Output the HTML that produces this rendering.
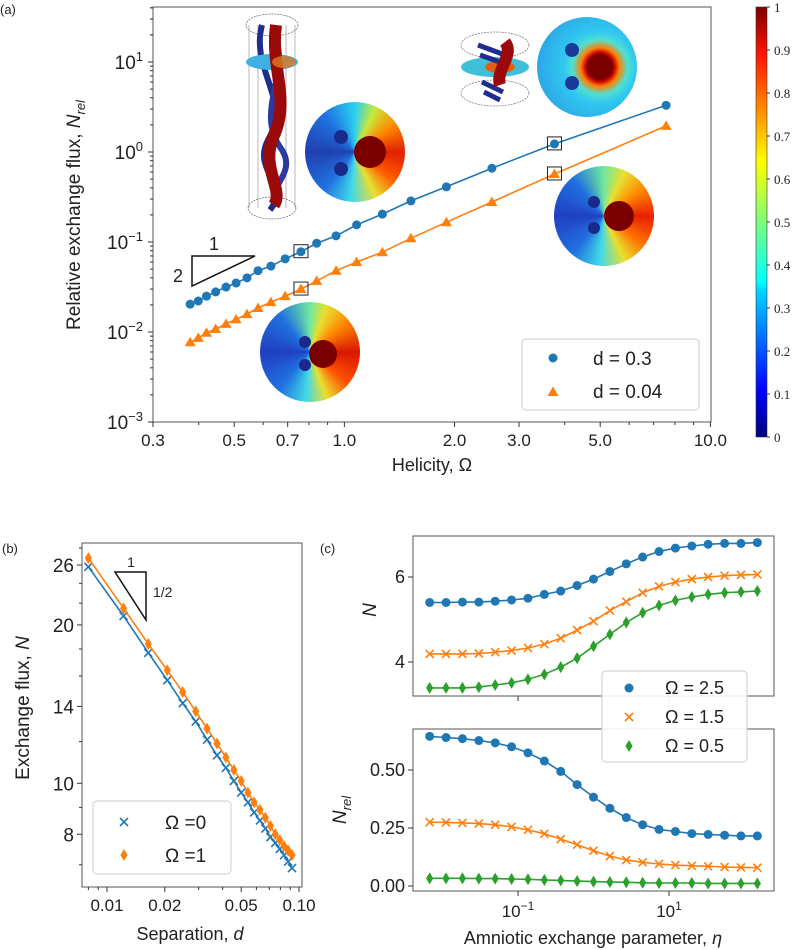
<!DOCTYPE html>
<html><head><meta charset="utf-8">
<style>
body{margin:0;background:#fff;}
#wrap{position:relative;width:796px;height:950px;overflow:hidden;font-family:"Liberation Sans","DejaVu Sans",sans-serif;}
svg{position:absolute;left:0;top:0;}
.disc{position:absolute;border-radius:50%;}
.dot{position:absolute;border-radius:50%;}
</style></head>
<body>
<div id="wrap">
<svg id="s" width="796" height="950" viewBox="0 0 796 950">
<defs>
<linearGradient id="cbar" x1="0" y1="1" x2="0" y2="0">
<stop offset="0" stop-color="#00007f"/><stop offset="0.11" stop-color="#0000ff"/><stop offset="0.125" stop-color="#0010ff"/>
<stop offset="0.34" stop-color="#00d4ff"/><stop offset="0.36" stop-color="#0ff"/><stop offset="0.5" stop-color="#7dff7a"/>
<stop offset="0.64" stop-color="#ff0"/><stop offset="0.89" stop-color="#ff1400"/><stop offset="1" stop-color="#7f0000"/>
</linearGradient>
</defs>
</svg>
<div class="disc" style="left:305px;top:102px;width:100px;height:100px;background:conic-gradient(from 0deg,#2bd0f0 0deg,#c8e83a 25deg,#ff8a00 55deg,#e02000 90deg,#ff5a00 125deg,#e8e030 155deg,#40d8e8 185deg,#2070e0 220deg,#2040b0 270deg,#2070e0 320deg,#2bd0f0 360deg);"></div>
<div class="dot" style="left:354px;top:136px;width:32px;height:32px;background:#7a0000;"></div>
<div class="dot" style="left:334px;top:130px;width:14px;height:14px;background:#1a2a8a;"></div>
<div class="dot" style="left:334px;top:162px;width:14px;height:14px;background:#1a2a8a;"></div>

<div class="disc" style="left:537px;top:17px;width:100px;height:100px;background:radial-gradient(circle at 63% 50%,#7a0000 0 15%,#d41000 19%,#ff8000 24%,#50e0d0 34%,#30c8f0 45%,#2a90e0 100%);"></div>
<div class="dot" style="left:565px;top:43px;width:14px;height:14px;background:#1a3a9a;"></div>
<div class="dot" style="left:565px;top:76px;width:14px;height:14px;background:#1a3a9a;"></div>

<div class="disc" style="left:554px;top:166px;width:100px;height:100px;background:conic-gradient(from 0deg,#70e8a0 0deg,#e8e030 25deg,#ff8a00 55deg,#e82000 90deg,#ff7000 125deg,#e8e030 155deg,#40d8e8 185deg,#2070e0 220deg,#2040c0 270deg,#2070e0 320deg,#70e8a0 360deg);"></div>
<div class="dot" style="left:604px;top:201px;width:30px;height:30px;background:#7a0000;"></div>
<div class="dot" style="left:588px;top:196px;width:12px;height:12px;background:#1a2a8a;"></div>
<div class="dot" style="left:588px;top:222px;width:12px;height:12px;background:#1a2a8a;"></div>

<div class="disc" style="left:260px;top:302px;width:100px;height:100px;background:conic-gradient(from 0deg,#70e8a0 0deg,#e8e030 20deg,#ff8a00 50deg,#d81800 90deg,#ff5000 130deg,#e8e030 160deg,#40d8e8 185deg,#2070e0 220deg,#2040c0 270deg,#2070e0 320deg,#70e8a0 360deg);"></div>
<div class="dot" style="left:309px;top:340px;width:28px;height:28px;background:#7a0000;"></div>
<div class="dot" style="left:299px;top:336px;width:12px;height:12px;background:#1a2a8a;"></div>
<div class="dot" style="left:299px;top:359px;width:12px;height:12px;background:#1a2a8a;"></div>
<svg id="over" width="796" height="950" viewBox="0 0 796 950"></svg>
</div>
<script>
// ---------- data ----------
const omegaA = [0.379,0.399,0.42,0.445,0.475,0.506,0.542,0.581,0.63,0.689,0.761,0.84,0.949,1.08,1.27,1.52,1.9,2.53,3.75,7.57];
const nrelD03 = [0.0204,0.0221,0.025,0.0279,0.0316,0.035,0.040,0.048,0.054,0.065,0.078,0.097,0.117,0.155,0.204,0.286,0.41,0.66,1.23,3.3];
const nrelD004 = [0.0077,0.0086,0.0098,0.0108,0.0123,0.0138,0.0158,0.0185,0.0215,0.025,0.030,0.037,0.048,0.060,0.077,0.11,0.166,0.278,0.57,1.95];
const aYTicks = [-3,-2,-1,0,1];
const aXTicks = [0.3,0.5,0.7,1.0,2.0,3.0,5.0,10.0];
const aXTickLabels = ["0.3","0.5","0.7","1.0","2.0","3.0","5.0","10.0"];
const cbarTicks = ["0","0.1","0.2","0.3","0.4","0.5","0.6","0.7","0.8","0.9","1"];

const sepD = [0.008,0.0122,0.0164,0.0206,0.0248,0.029,0.0332,0.0374,0.0416,0.0458,0.05,0.0542,0.0584,0.0626,0.0668,0.071,0.0752,0.0794,0.0836,0.0878,0.092];
const nOmega0 = [25.8,20.8,17.7,15.7,14.2,13.1,12.1,11.3,10.7,10.1,9.6,9.2,8.8,8.5,8.2,7.9,7.7,7.5,7.3,7.1,6.9];
const nOmega1 = [26.8,21.5,18.4,16.4,14.9,13.7,12.7,11.9,11.2,10.6,10.1,9.6,9.2,8.9,8.6,8.3,8.0,7.8,7.6,7.45,7.3];
const bYTicks = [26,20,14,10,8];
const bXTicks = [0.01,0.02,0.05,0.10];
const bXTickLabels = ["0.01","0.02","0.05","0.10"];

const eta = [0.00676,0.01114,0.01837,0.0303,0.0499,0.0822,0.1355,0.2234,0.368,0.607,1,1.648,2.716,4.477,7.38,12.16,20.04,33.0,54.5,89.7,147.9];
const nO25 = [5.40,5.40,5.41,5.41,5.43,5.46,5.50,5.59,5.67,5.80,5.95,6.13,6.31,6.47,6.60,6.68,6.73,6.77,6.79,6.79,6.81];
const nO15 = [4.19,4.19,4.19,4.20,4.23,4.27,4.33,4.42,4.56,4.75,4.96,5.21,5.42,5.63,5.78,5.88,5.95,6.00,6.03,6.05,6.06];
const nO05 = [3.39,3.39,3.39,3.41,3.46,3.51,3.59,3.71,3.88,4.09,4.37,4.65,4.93,5.16,5.33,5.45,5.53,5.59,5.63,5.65,5.67];
const rO25 = [0.645,0.640,0.635,0.627,0.617,0.600,0.574,0.539,0.494,0.437,0.383,0.335,0.295,0.264,0.244,0.235,0.226,0.222,0.219,0.216,0.216];
const rO15 = [0.275,0.274,0.272,0.269,0.264,0.255,0.242,0.225,0.202,0.178,0.152,0.129,0.112,0.102,0.095,0.090,0.087,0.085,0.082,0.080,0.079];
const rO05 = [0.033,0.033,0.033,0.032,0.032,0.030,0.029,0.026,0.024,0.021,0.019,0.017,0.016,0.014,0.013,0.013,0.013,0.011,0.011,0.011,0.011];
const cTopTicks = [4,6];
const cBotTicks = [0,0.25,0.5];
const cBotTickLabels = ["0.00","0.25","0.50"];
const cXTicks = [-1,1];

const BLUE="#1f77b4", ORANGE="#ff7f0e", GREEN="#2ca02c";
const NS="http://www.w3.org/2000/svg";
const S=document.getElementById('s');
const O=document.getElementById('over');
function mk(parent,tag,attrs,text){const e=document.createElementNS(NS,tag);for(const k in attrs)e.setAttribute(k,attrs[k]);if(text!==undefined)e.textContent=text;parent.appendChild(e);return e;}
const L10=Math.log10;

// ---------- axis functions ----------
const ax=v=>153+366*(L10(v)-L10(0.3));
const ay=v=>152-90*L10(v);
const bx=v=>107+192*(L10(v)+2);
const by=v=>565-526*(L10(v)-L10(26));
const cx=v=>518+75.5*(L10(v)+1);
function cyTop(v){return 577+(6-v)*42.5;}
function cyBot(v){return 886-v*232;}

function frame(p,x0,y0,x1,y1,name){
  const r=mk(p,'rect',{x:x0,y:y0,width:x1-x0,height:y1-y0,fill:'none',stroke:'#555','stroke-width':1});
  
  
}
function marker(p,type,x,y,color,name){
  let e;
  if(type==='o'){e=mk(p,'circle',{cx:x,cy:y,r:4.5,fill:color});}
  else if(type==='^'){e=mk(p,'path',{d:`M${x},${y-5.5}L${x+5.5},${y+4}L${x-5.5},${y+4}Z`,fill:color});}
  else if(type==='x'){e=mk(p,'path',{d:`M${x-4},${y-4}L${x+4},${y+4}M${x-4},${y+4}L${x+4},${y-4}`,stroke:color,'stroke-width':1.6,fill:'none'});}
  else {e=mk(p,'path',{d:`M${x},${y-6}L${x+3.6},${y}L${x},${y+6}L${x-3.6},${y}Z`,fill:color});}
  
  
  return e;
}
function series(p,xs,ys,fx,fy,color,type,name){
  const pts=xs.map((v,i)=>fx(v).toFixed(1)+','+fy(ys[i]).toFixed(1)).join(' ');
  const l=mk(p,'polyline',{points:pts,fill:'none',stroke:color,'stroke-width':1.6});
  
  
  xs.forEach((v,i)=>marker(p,type,fx(v),fy(ys[i]),color,name+'-point'));
}
function txt(p,x,y,s,size,anchor,name,extra){
  const t=mk(p,'text',Object.assign({x:x,y:y,'font-size':size,'text-anchor':anchor||'start',fill:'#222'},extra||{}),s);
  
  
  return t;
}
function line(p,x1,y1,x2,y2,c,w){return mk(p,'line',{x1,y1,x2,y2,stroke:c||'#333','stroke-width':w||1});}

// ========== panel (a) ==========
frame(S,153,7,711,422,'panel-a-axes');
txt(S,0,14,'(a)',13,'start','panel-a-label');
aYTicks.forEach(k=>{
  const y=ay(Math.pow(10,k));
  line(S,148,y,153,y);
  const t=txt(S,143,y+7,'',19,'end','a-y-tick-label');
  t.appendChild(document.createTextNode('10'));
  mk(t,'tspan',{dy:-8,'font-size':13},k<0?'\u2212'+(-k):String(k));
  for(let m=2;m<10;m++){const yy=ay(m*Math.pow(10,k));if(yy>7&&yy<422)line(S,150,yy,153,yy);}
});
for(let m=2;m<10;m++){const yy=ay(m*10);if(yy>7)line(S,150,yy,153,yy);}
aXTicks.forEach((v,i)=>{
  const x=ax(v);line(S,x,422,x,427);
  txt(S,x,446,aXTickLabels[i],17,'middle','a-x-tick-label');
});
[0.4,0.6,0.8,0.9,4,6,7,8,9].forEach(v=>{const x=ax(v);line(S,x,422,x,425);});
txt(S,432,471,'Helicity, \u03A9',18,'middle','a-x-axis-title');
{const t=txt(S,0,0,'Relative exchange flux, ',19,'middle','a-y-axis-title',{transform:'translate(80,215) rotate(-90)'});
 mk(t,'tspan',{'font-style':'italic'},'N');mk(t,'tspan',{'font-style':'italic','font-size':13,dy:5},'rel');}
{const g=mk(S,'path',{d:'M192,256L255,256L192,286Z',fill:'none',stroke:'#111','stroke-width':1.5});
 
 txt(S,214,250,'1',18,'middle','slope-run-label');txt(S,178,282,'2',18,'middle','slope-rise-label');}
{const g=mk(O,'g',{});
 mk(g,'ellipse',{cx:272,cy:25,rx:26,ry:11,fill:'none',stroke:'#666','stroke-width':0.7,'stroke-dasharray':'2,1'});
 mk(g,'ellipse',{cx:272,cy:208,rx:24,ry:11,fill:'none',stroke:'#666','stroke-width':0.7,'stroke-dasharray':'2,1'});
 [249,258,286,295].forEach(x=>line(g,x,25,x,208,'#888',0.6));
 mk(g,'path',{d:'M262,25 C250,70 292,100 268,140 C252,170 290,185 270,210',stroke:'#1f2e8c','stroke-width':6,fill:'none'});
 mk(g,'path',{d:'M272,32 C295,70 252,110 282,150 C298,175 262,190 278,205',stroke:'#2a3a9f','stroke-width':6,fill:'none'});
 mk(g,'ellipse',{cx:272,cy:62,rx:26,ry:8,fill:'#3fb0e0'});
 mk(g,'path',{d:'M276,25 C270,70 292,100 272,140 C262,170 284,190 274,205',stroke:'#9a0a0a','stroke-width':12,fill:'none'});
 mk(g,'ellipse',{cx:284,cy:62,rx:12,ry:6,fill:'#e07a20',opacity:0.8});
}
{const g=mk(O,'g',{});
 mk(g,'ellipse',{cx:495,cy:45,rx:34,ry:13,fill:'none',stroke:'#777','stroke-width':0.7,'stroke-dasharray':'2,1'});
 mk(g,'ellipse',{cx:495,cy:93,rx:34,ry:13,fill:'none',stroke:'#777','stroke-width':0.7,'stroke-dasharray':'2,1'});
 mk(g,'ellipse',{cx:495,cy:67,rx:34,ry:10,fill:'#40c0d8'});
 mk(g,'ellipse',{cx:500,cy:67,rx:15,ry:6,fill:'#e06010'});
 mk(g,'path',{d:'M478,45 L505,55 M480,55 L500,62 M482,82 L503,92 M484,92 L500,100',stroke:'#1f2e8c','stroke-width':5,fill:'none'});
 mk(g,'path',{d:'M505,42 C515,55 495,70 500,85',stroke:'#9a0a0a','stroke-width':12,fill:'none'});
}
series(S,omegaA,nrelD03,ax,ay,BLUE,'o','series-d03');
series(S,omegaA,nrelD004,ax,ay,ORANGE,'^','series-d004');
[[0.761,nrelD03[10]],[0.761,nrelD004[10]],[3.75,nrelD03[18]],[3.75,nrelD004[18]]].forEach(p=>{
  const r=mk(S,'rect',{x:ax(p[0])-7,y:ay(p[1])-7,width:14,height:13,fill:'none',stroke:'#222','stroke-width':1});
  
});
{const r=mk(S,'rect',{x:522,y:339,width:177,height:71,rx:4,fill:'#fff','fill-opacity':0.85,stroke:'#ccc'});
 
 marker(S,'o',553,358,BLUE,'legend-marker-d03');txt(S,593,365,'d = 0.3',19,'start','legend-entry-d03');
 marker(S,'^',553,392,ORANGE,'legend-marker-d004');txt(S,593,398,'d = 0.04',19,'start','legend-entry-d004');}
{const r=mk(S,'rect',{x:756,y:7,width:11,height:430,fill:'url(#cbar)',stroke:'#333','stroke-width':0.6});
 
 cbarTicks.forEach((s,i)=>{const y=437-i*43;line(S,767,y,770,y);txt(S,774,y+5,s,13,'start','colorbar-tick-label',{'font-family':'Liberation Serif, serif'});});}

// ========== panel (b) ==========
frame(S,82,543,302,887,'panel-b-axes');
txt(S,2,553,'(b)',13,'start','panel-b-label');
bYTicks.forEach(v=>{const y=by(v);line(S,77,y,82,y);txt(S,74,y+7,String(v),19,'end','b-y-tick-label');});
[7,9,12,16,18,22,24,28].forEach(v=>{const y=by(v);if(y>543&&y<887)line(S,79,y,82,y);});
bXTicks.forEach((v,i)=>{const x=bx(v);line(S,x,887,x,892);txt(S,x,911,bXTickLabels[i],17,'middle','b-x-tick-label');});
[0.008,0.009,0.03,0.04,0.06,0.07,0.08,0.09].forEach(v=>{const x=bx(v);if(x>82)line(S,x,887,x,890);});
{const t=txt(S,190,940,'Separation, ',18,'middle','b-x-axis-title');mk(t,'tspan',{'font-style':'italic'},'d');}
{const t=txt(S,0,0,'Exchange flux, ',19,'middle','b-y-axis-title',{transform:'translate(29,708) rotate(-90)'});mk(t,'tspan',{'font-style':'italic'},'N');}
{const g=mk(S,'path',{d:'M115,572L146,572L146,620Z',fill:'none',stroke:'#111','stroke-width':1.5});
 
 txt(S,131,567,'1',14,'middle','slope-run-label-b');txt(S,153,597,'1/2',14,'start','slope-rise-label-b');}
series(S,sepD,nOmega0,bx,by,BLUE,'x','series-omega0');
series(S,sepD,nOmega1,bx,by,ORANGE,'d','series-omega1');
{const r=mk(S,'rect',{x:93,y:801,width:138,height:73,rx:4,fill:'#fff','fill-opacity':0.85,stroke:'#ccc'});
 
 marker(S,'x',124,822,BLUE,'legend-marker-omega0');txt(S,165,829,'\u03A9 =0',19,'start','legend-entry-omega0');
 marker(S,'d',124,855,ORANGE,'legend-marker-omega1');txt(S,165,862,'\u03A9 =1',19,'start','legend-entry-omega1');}

// ========== panel (c) ==========
txt(S,320,553,'(c)',13,'start','panel-c-label');
frame(S,413,536,774,696,'panel-c-top-axes');
frame(S,413,729,774,891,'panel-c-bottom-axes');
cTopTicks.forEach(v=>{const y=cyTop(v);line(S,408,y,413,y);txt(S,405,y+6,String(v),18,'end','c-top-y-tick-label');});
cBotTicks.forEach((v,i)=>{const y=cyBot(v);line(S,408,y,413,y);txt(S,405,y+6,cBotTickLabels[i],18,'end','c-bottom-y-tick-label');});
cXTicks.forEach(k=>{const x=cx(Math.pow(10,k));line(S,x,891,x,896);line(S,x,696,x,701);
  const t=txt(S,x,917,'10',17,'middle','c-x-tick-label');mk(t,'tspan',{dy:-7,'font-size':12},k<0?'\u22121':'1');});
txt(S,0,0,'N',19,'middle','c-top-y-axis-title',{transform:'translate(376,610) rotate(-90)','font-style':'italic'});
{const t=txt(S,0,0,'',19,'middle','c-bottom-y-axis-title',{transform:'translate(346,810) rotate(-90)'});
 mk(t,'tspan',{'font-style':'italic'},'N');mk(t,'tspan',{'font-style':'italic','font-size':13,dy:5},'rel');}
{const t=txt(S,593,944,'Amniotic exchange parameter, ',18,'middle','c-x-axis-title');mk(t,'tspan',{'font-style':'italic'},'\u03B7');}
series(S,eta,nO25,cx,cyTop,BLUE,'o','series-top-omega25');
series(S,eta,nO15,cx,cyTop,ORANGE,'x','series-top-omega15');
series(S,eta,nO05,cx,cyTop,GREEN,'d','series-top-omega05');
series(S,eta,rO25,cx,cyBot,BLUE,'o','series-bottom-omega25');
series(S,eta,rO15,cx,cyBot,ORANGE,'x','series-bottom-omega15');
series(S,eta,rO05,cx,cyBot,GREEN,'d','series-bottom-omega05');
{const r=mk(S,'rect',{x:602,y:671,width:145,height:91,rx:4,fill:'#fff','fill-opacity':0.9,stroke:'#ccc'});
 
 marker(S,'o',629,688,BLUE,'legend-marker-omega25');txt(S,665,694,'\u03A9 = 2.5',18,'start','legend-entry-omega25');
 marker(S,'x',629,717,ORANGE,'legend-marker-omega15');txt(S,665,723,'\u03A9 = 1.5',18,'start','legend-entry-omega15');
 marker(S,'d',629,746,GREEN,'legend-marker-omega05');txt(S,665,752,'\u03A9 = 0.5',18,'start','legend-entry-omega05');}
</script>
</body></html>
